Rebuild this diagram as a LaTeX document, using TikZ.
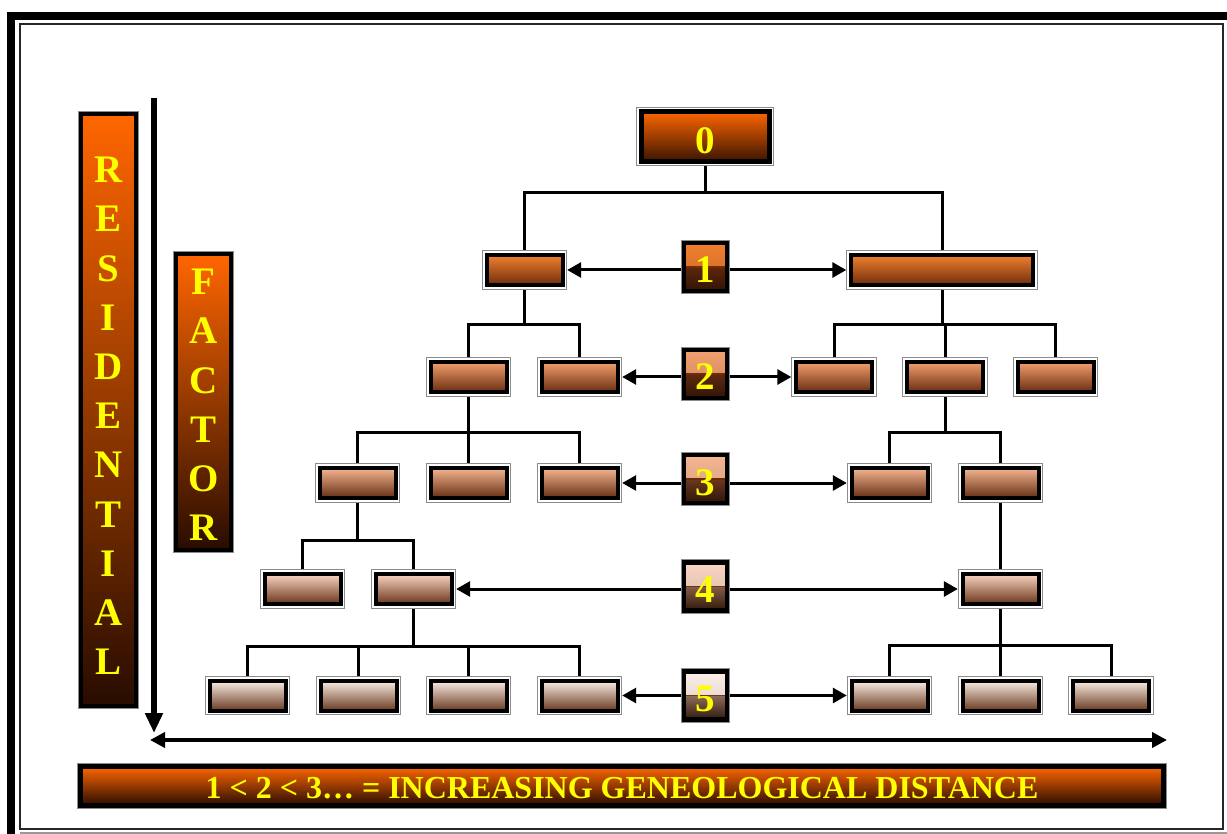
\documentclass[tikz,border=0pt]{standalone}
\usepackage{fontspec}
\setmainfont{Liberation Serif}
\usetikzlibrary{arrows.meta}
\pgfdeclarelayer{bg}
\pgfsetlayers{bg,main}

\definecolor{txtyellow}{RGB}{255,255,0}
\definecolor{hot}{RGB}{255,102,0}
\definecolor{hotdark}{RGB}{40,12,0}
% box colours, top and bottom, per generation
\definecolor{lzt}{RGB}{255,102,0}   \definecolor{lzb}{RGB}{58,20,0}
\definecolor{lat}{RGB}{242,128,48}  \definecolor{lab}{RGB}{110,45,10}
\definecolor{lbt}{RGB}{243,160,110} \definecolor{lbb}{RGB}{105,45,15}
\definecolor{lct}{RGB}{245,182,145} \definecolor{lcb}{RGB}{100,45,18}
\definecolor{ldt}{RGB}{250,214,195} \definecolor{ldb}{RGB}{105,52,25}
\definecolor{let}{RGB}{253,238,230} \definecolor{leb}{RGB}{105,58,32}

\begin{document}
\begin{tikzpicture}[x=1pt,y=-1pt,line join=miter,
  lvbox/.style 2 args={draw=black,line width=4pt,minimum width=76pt,
    minimum height=30pt,inner sep=0pt,outer sep=4.7pt,
    top color=#1,bottom color=#2,
    preaction={draw=black!45,line width=9.4pt},
    preaction={draw=white,line width=7.4pt}},
  numbox/.style n args={5}{draw=black,line width=4.5pt,minimum width=43pt,
    minimum height=48pt,inner sep=0pt,outer sep=3pt,
    preaction={draw=black!45,line width=6.4pt},
    text=txtyellow,font=\fontsize{39}{39}\selectfont\bfseries,
    text height=32pt,text depth=0pt,
    path picture={
      \fill[top color=#1,bottom color=#2]
        (path picture bounding box.north west) rectangle (path picture bounding box.east);
      \fill[top color=#3,bottom color=#4]
        (path picture bounding box.west) rectangle (path picture bounding box.south east);
      \draw[#5,line width=1.6pt]
        (path picture bounding box.west) -- (path picture bounding box.east);
    }},
  sidebox/.style={draw=black,line width=4pt,inner sep=0pt,minimum width=55pt,
    top color=hot,bottom color=hotdark,
    preaction={draw=black!45,line width=5.6pt}},
  sidetext/.style={text=txtyellow,font=\fontsize{39}{49.2}\selectfont\bfseries,
    align=center,inner sep=0pt},
  treeline/.style={line width=3pt},
  levarrow/.style={line width=3pt,-{Triangle[length=14pt,width=15pt]}},
  axisarrow/.style={line width=4pt,{Triangle[length=15pt,width=15pt]}-{Triangle[length=15pt,width=15pt]}},
]
\useasboundingbox (0,0) rectangle (1227,834);

% slide frame
\draw[line width=8pt] (11,834) -- (11,16) -- (1227,16);
\draw[line width=2pt,black!85] (19.5,24) rectangle (1223,829);
\draw[line width=1.5pt,black!40] (19.5,833.2) -- (1227,833.2);

% root
\node[lvbox={lzt}{lzb},line width=5pt,minimum width=128pt,minimum height=50pt,
  text=txtyellow,font=\fontsize{39}{39}\selectfont\bfseries,
  text height=34pt,text depth=0pt] (n0) at (705,136.5) {0};

% generation 1
\node[lvbox={lat}{lab}] (a1) at (524.5,270) {};
\node[lvbox={lat}{lab},minimum width=182pt] (b1) at (942,270) {};
% generation 2
\foreach \n/\x in {a2/468.5,b2/579.5,c2/834,d2/945,e2/1055.5}
  \node[lvbox={lbt}{lbb}] (\n) at (\x,377) {};
% generation 3
\foreach \n/\x in {a3/357.5,b3/468.5,c3/579.5,d3/889.5,e3/1000.5}
  \node[lvbox={lct}{lcb}] (\n) at (\x,483) {};
% generation 4
\foreach \n/\x in {a4/302.5,b4/413.5,c4/1000.5}
  \node[lvbox={ldt}{ldb}] (\n) at (\x,589) {};
% generation 5
\foreach \n/\x in {a5/247.5,b5/358.5,c5/468.5,d5/579.5,e5/889.5,f5/1000.5,g5/1111}
  \node[lvbox={let}{leb}] (\n) at (\x,695.5) {};

% distance markers
\node[numbox={lat}{lat!80!black}{lab!85!black}{lab!45!black}{lab!95!red}] (m1) at (705.5,267) {1};
\node[numbox={lbt}{lbt!82!black}{lbb!90!black}{lbb!45!black}{lbb!95!red}] (m2) at (705.5,374) {2};
\node[numbox={lct}{lct!85!black}{lcb!95!white}{lcb!45!black}{lcb!95!red}] (m3) at (705.5,479) {3};
\node[numbox={ldt}{ldt!85!black}{ldb!80!white}{ldb!45!black}{ldb!95!red}] (m4) at (705.5,586.5) {4};
\node[numbox={let}{let!85!black}{leb!75!white}{leb!45!black}{leb!95!red}] (m5) at (705.5,695.5) {5};

% descent lines
\begin{pgfonlayer}{bg}
\foreach \p/\y/\c in {n0/193/a1,n0/193/b1,
    a1/325/a2,a1/325/b2,b1/325/c2,b1/325/d2,b1/325/e2,
    a2/432/a3,a2/432/b3,a2/432/c3,d2/432/d3,d2/432/e3,
    a3/540/a4,a3/540/b4,e3/540/c4,
    b4/646/a5,b4/646/b5,b4/646/c5,b4/646/d5,
    c4/645/e5,c4/645/f5,c4/645/g5}
  \draw[treeline] (\p.center) -- (\p.center |- 0,\y) -| (\c.center);
\end{pgfonlayer}

% horizontal distance arrows
\foreach \m/\l/\r in {m1/a1/b1,m2/b2/c2,m3/c3/d3,m4/b4/c4,m5/d5/e5}{
  \draw[levarrow] (\l.east -| \m.west) -- (\l.east);
  \draw[levarrow] (\r.west -| \m.east) -- (\r.west);
}

% side labels
\node[sidebox,minimum height=592pt] (res) at (108.5,410) {};
\node[sidetext] (restxt) at (108.5,416) {R\\E\\S\\I\\D\\E\\N\\T\\I\\A\\L};
\node[sidebox,minimum height=296pt] (fac) at (203.5,402) {};
\node[sidetext] (factxt) at (203.5,405) {F\\A\\C\\T\\O\\R};

% axes
\coordinate (vtop) at (154,98);
\coordinate (vbot) at (154,733);
\draw[line width=6pt,-{Triangle[length=20pt,width=17pt]}] (vtop) -- (vbot);
\coordinate (hl) at (150,740);
\coordinate (hr) at (1167,740);
\draw[axisarrow] (hl) -- (hr);

% caption bar
\node[draw=black,line width=5pt,minimum width=1083pt,minimum height=39pt,
  inner sep=0pt,top color=hot,bottom color=hotdark,
  preaction={draw=black!45,line width=6.5pt},
  text=txtyellow,font=\fontsize{32}{32}\selectfont\bfseries,
  text height=24pt,text depth=0pt] (cap) at (622,786)
  {1 < 2 < 3… = INCREASING GENEOLOGICAL DISTANCE};
\end{tikzpicture}
\end{document}
